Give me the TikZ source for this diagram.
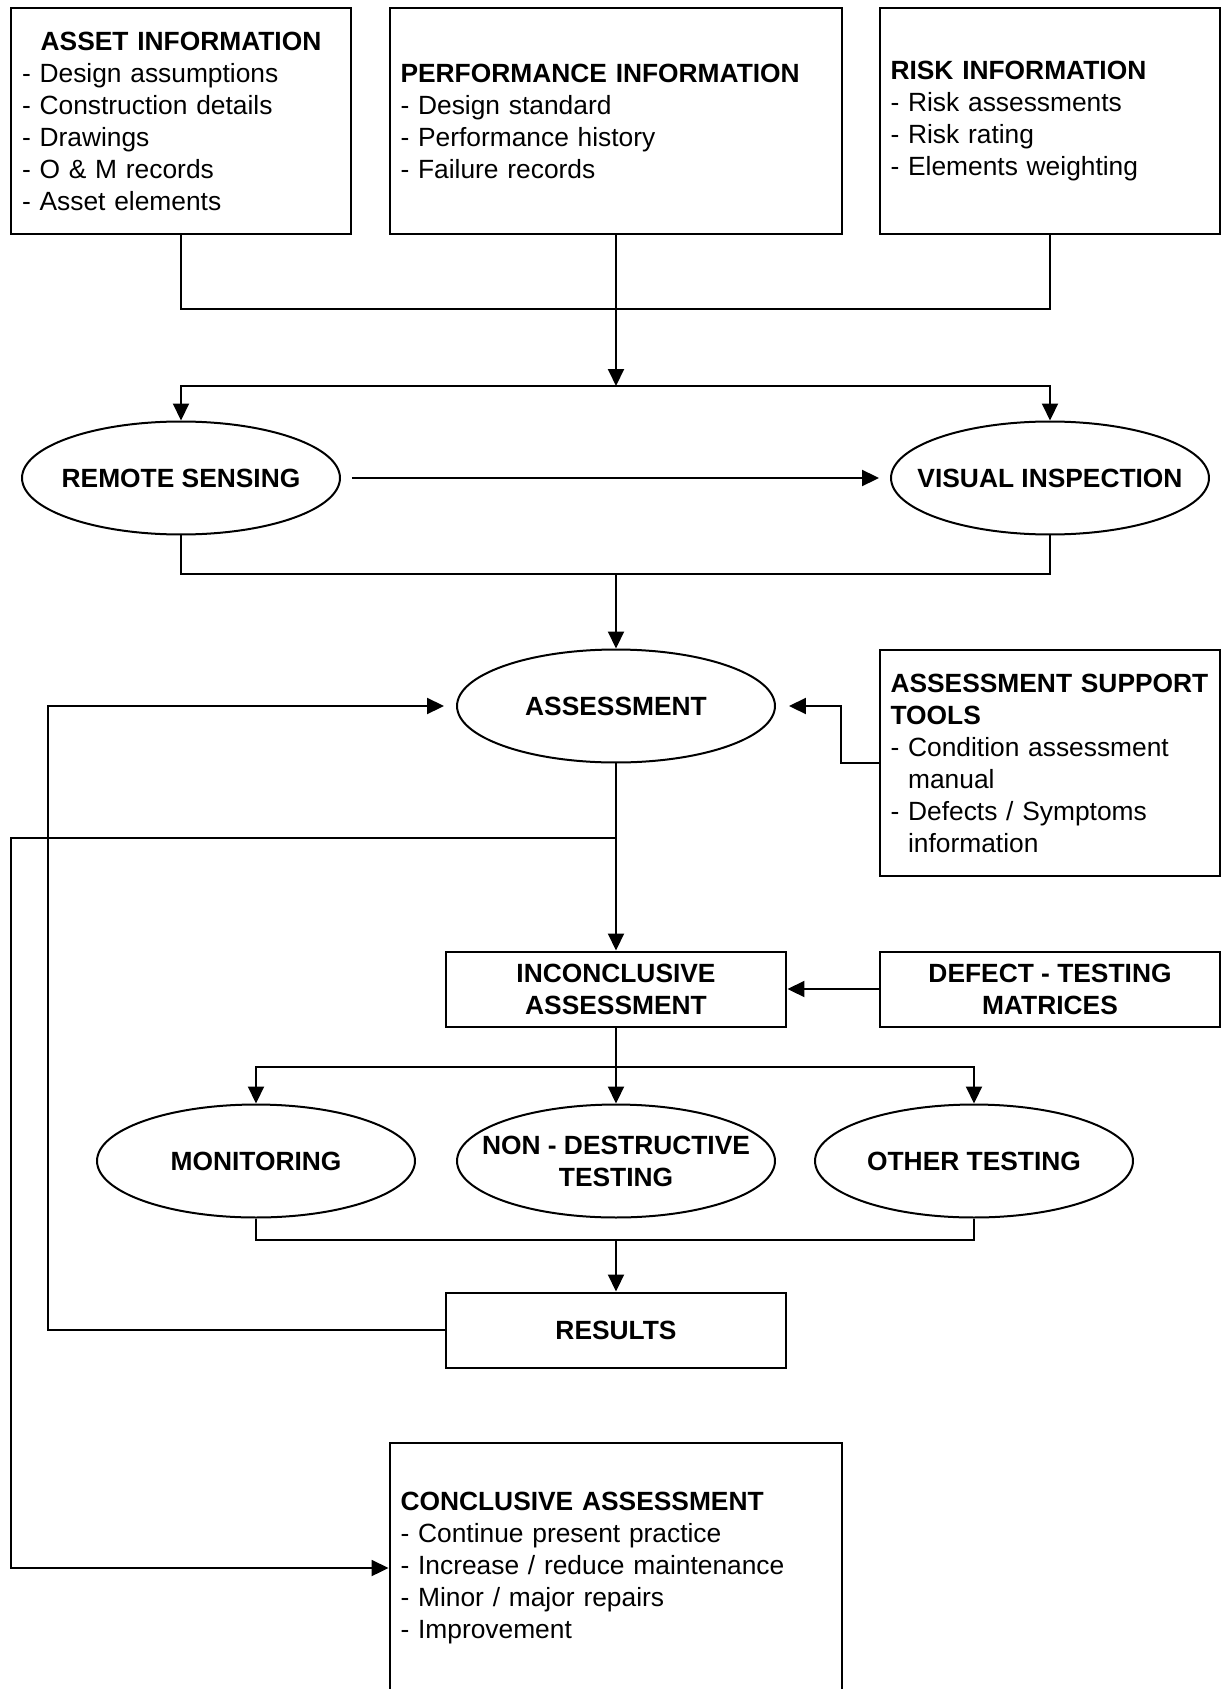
\documentclass[tikz,border=0pt]{standalone}
\usepackage{fontspec}
\setmainfont{Liberation Sans}
\usepackage{tikz}
\usetikzlibrary{fit,positioning}
\usetikzlibrary{shapes,arrows.meta}

\begin{document}
\begin{tikzpicture}[x=0.02cm,y=-0.02cm,font=\fontsize{15}{18.2}\selectfont]
\tikzstyle{box}=[rectangle, draw=black, line width=0.04cm, inner xsep=0.22cm, inner ysep=0pt, align=left]
\tikzstyle{midbox}=[rectangle, draw=black, line width=0.04cm, minimum width=6.82cm, minimum height=1.5cm, align=center, font=\fontsize{15}{18.2}\selectfont\bfseries]
\tikzstyle{oval}=[ellipse, draw=black, line width=0.04cm, minimum width=6.36cm, minimum height=2.26cm, inner xsep=-0.45cm, inner ysep=0pt, align=center, font=\fontsize{15}{18.2}\selectfont\bfseries]
\tikzstyle{wire}=[line width=0.04cm]
\tikzstyle{connect}=[line width=0.04cm, -{Triangle[length=0.34cm,width=0.32cm]}]

\useasboundingbox (0,0) rectangle (1226,1689);

% information boxes
	\node[box, minimum width=6.8cm, minimum height=4.52cm, text width=6.36cm] (asset) at (181,121)
		{\makebox[\linewidth]{\bfseries ASSET INFORMATION}\\- Design assumptions\\- Construction details\\- Drawings\\- O \& M records\\- Asset elements};
	\node[box, minimum width=9.06cm, minimum height=4.52cm, text width=8.62cm] (perf) at (616,121)
		{\textbf{PERFORMANCE INFORMATION}\\- Design standard\\- Performance history\\- Failure records};
	\node[box, minimum width=6.82cm, minimum height=4.52cm, text width=6.38cm] (risk) at (1050,121)
		{\textbf{RISK INFORMATION}\\- Risk assessments\\- Risk rating\\- Elements weighting};

	\node[oval] (remote) at (181,478) {REMOTE SENSING};
	\node[oval] (visual) at (1050,478) {VISUAL INSPECTION};
	\node[oval] (assess) at (616,706) {ASSESSMENT};

	\node[box, minimum width=6.82cm, minimum height=4.52cm, text width=6.38cm] (support) at (1050,763)
		{\mbox{\bfseries ASSESSMENT SUPPORT}\\\textbf{TOOLS}\\- Condition assessment\\\phantom{-} manual\\- Defects / Symptoms\\\phantom{-} information};

	\node[midbox] (inconc) at (616,989) {INCONCLUSIVE\\ASSESSMENT};
	\node[midbox] (defect) at (1050,989) {DEFECT - TESTING\\MATRICES};

	\node[oval] (monitor) at (256,1161) {MONITORING};
	\node[oval] (ndt) at (616,1161) {NON - DESTRUCTIVE\\TESTING};
	\node[oval] (other) at (974,1161) {OTHER TESTING};

	\node[midbox] (results) at (616,1330) {RESULTS};

	\node[box, minimum width=9.06cm, minimum height=5cm, text width=8.62cm] (concl) at (616,1568)
		{\textbf{CONCLUSIVE ASSESSMENT}\\- Continue present practice\\- Increase / reduce maintenance\\- Minor / major repairs\\- Improvement};

% junctions
	\coordinate (join1) at (616,309);
	\coordinate (split1) at (616,386);
	\coordinate (join2) at (616,574);
	\coordinate (branch) at (616,838);
	\coordinate (left1) at (11,838);
	\coordinate (split2) at (616,1067);
	\coordinate (join3) at (616,1240);
	\coordinate (left2) at (48,1330);

	\draw[wire] (asset.south) |- (join1) -| (risk.south);
	\draw[connect] (perf.south) -- (split1);
	\draw[connect] (split1) -| (remote.north);
	\draw[connect] (split1) -| (visual.north);
	\draw[connect, shorten <=0.22cm, shorten >=0.22cm] (remote.east) -- (visual.west);

	\draw[wire] (remote.south) |- (join2) -| (visual.south);
	\draw[connect] (join2) -- (assess.north);
	\draw[connect, shorten >=0.26cm] (support.west) -- ++(-38,0) |- (assess.east);

	\draw[connect] (assess.south) -- (inconc.north);
	\draw[connect] (branch) -- (left1) |- (concl.west);
	\draw[connect] (defect.west) -- (inconc.east);

	\draw[wire] (inconc.south) -- (split2);
	\draw[connect] (split2) -| (monitor.north);
	\draw[connect] (split2) -- (ndt.north);
	\draw[connect] (split2) -| (other.north);

	\draw[wire] (monitor.south) |- (join3) -| (other.south);
	\draw[connect] (join3) -- (results.north);
	\draw[connect, shorten >=0.24cm] (results.west) -- (left2) |- (assess.west);

\end{tikzpicture}
\end{document}
